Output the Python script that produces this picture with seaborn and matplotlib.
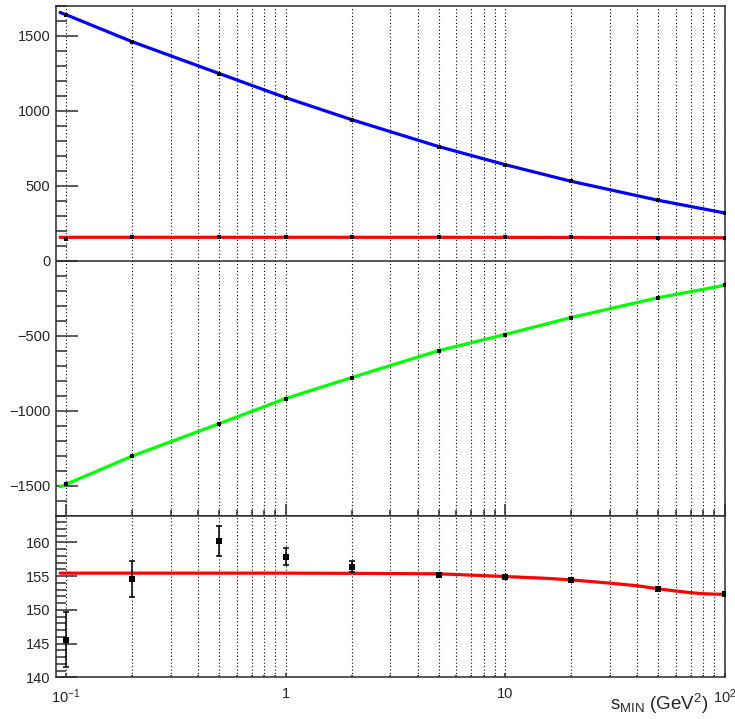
import numpy as np
import pandas as pd
import matplotlib
matplotlib.use("Agg")
import matplotlib.pyplot as plt
import seaborn as sns
from matplotlib.ticker import FixedLocator, MultipleLocator, NullFormatter, FixedFormatter

# ---------------- data ----------------
s_min = [0.1, 0.2, 0.5, 1, 2, 5, 10, 20, 50, 100]
blue_vals = [1640, 1460, 1247, 1087, 940, 760, 640, 529, 402, 318]
green_vals = [-1492, -1304, -1087, -920, -780, -600, -493, -380, -247, -165]
total_vals = [145.6, 154.6, 160.2, 157.9, 156.4, 155.2, 154.85, 154.4, 153.1, 152.3]
total_errs = [4.1, 2.7, 2.2, 1.25, 0.8, 0.3, 0.2, 0.2, 0.2, 0.2]

curve_x = [0.094, 0.1, 0.2, 0.5, 1, 2, 5, 10, 20, 50, 100]
blue_curve = [1655, 1640, 1460, 1247, 1087, 940, 760, 640, 529, 402, 318]
green_curve = [-1509, -1492, -1304, -1087, -920, -780, -600, -493, -380, -247, -165]

fit_x = [0.094, 0.5, 1, 2, 5, 10, 15, 20, 30, 40, 50, 60, 70, 80, 90, 100]
fit_y = [155.45, 155.45, 155.45, 155.42, 155.35, 154.95, 154.7, 154.45, 153.97,
         153.58, 153.12, 152.8, 152.55, 152.4, 152.33, 152.32]

x_major = [0.1, 1, 10, 100]
x_major_labels = [r"$\mathregular{10^{-1}}$", "1", "10", r"$\mathregular{10^{2}}$"]

# ---------------- style ----------------
sns.set_style("ticks")
plt.rcParams['font.family'] = ['Liberation Sans', 'DejaVu Sans']
plt.rcParams['mathtext.fontset'] = 'custom'
plt.rcParams['mathtext.rm'] = 'Liberation Sans'
plt.rcParams['mathtext.it'] = 'Liberation Sans:italic'

fig = plt.figure(figsize=(7.35, 7.19), dpi=100)
left, right = 56 / 735, 725 / 735
top_y0, top_y1 = 1 - 515.5 / 719, 1 - 5.7 / 719
bot_y0, bot_y1 = 1 - 677.3 / 719, 1 - 515.5 / 719
ax1 = fig.add_axes([left, top_y0, right - left, top_y1 - top_y0])
ax2 = fig.add_axes([left, bot_y0, right - left, bot_y1 - bot_y0], sharex=ax1)

frame_col = "#2b2b2b"
minor_x = [m * 10.0 ** e for e in (-1, 0, 1) for m in range(2, 10)]

for ax in (ax1, ax2):
    ax.set_xscale("log")
    ax.set_xlim(0.09, 100.5)
    for sp in ax.spines.values():
        sp.set_visible(True)
        sp.set_color(frame_col)
        sp.set_linewidth(1.1)
    ax.xaxis.set_major_locator(FixedLocator(x_major))
    ax.xaxis.set_minor_locator(FixedLocator(minor_x))
    ax.grid(False)
    ax.xaxis.grid(True, which="both", linestyle=(0, (1, 2.1)), color="black", linewidth=0.8)
    ax.set_axisbelow(True)

# ---------------- top panel ----------------
sns.lineplot(x=curve_x, y=blue_curve, ax=ax1, color=(0, 0, 1), linewidth=2.3, sort=False)
sns.lineplot(x=curve_x, y=green_curve, ax=ax1, color=(0, 1, 0), linewidth=2.3, sort=False)
sns.lineplot(x=fit_x, y=fit_y, ax=ax1, color=(1, 0, 0), linewidth=2.3, sort=False)
for vals in (blue_vals, green_vals, total_vals):
    sns.scatterplot(x=s_min, y=vals, ax=ax1, color="black", marker="s", s=6,
                    linewidth=0, zorder=5)
ax1.axhline(0, color=frame_col, linewidth=1.1, zorder=1)
ax1.set_ylim(-1700, 1700)
ax1.yaxis.set_major_locator(MultipleLocator(500))
ax1.yaxis.set_minor_locator(MultipleLocator(100))
ax1.tick_params(axis="y", which="major", direction="in", length=16, width=1.1,
                color=frame_col, labelsize=10.5, pad=4, right=False)
ax1.tick_params(axis="y", which="minor", direction="in", length=8, width=1.1,
                color=frame_col, right=False)
ax1.tick_params(axis="x", which="major", direction="in", length=9, width=1.1,
                color=frame_col, top=False, labelbottom=False)
ax1.tick_params(axis="x", which="minor", direction="in", length=4.5, width=1.1,
                color=frame_col, top=False, labelbottom=False)
ax1.set_xlabel("")
ax1.set_ylabel("")

# ---------------- bottom panel ----------------
sns.lineplot(x=fit_x, y=fit_y, ax=ax2, color=(1, 0, 0), linewidth=2.3, sort=False)
ax2.errorbar(s_min, total_vals, yerr=total_errs, fmt="none", ecolor="black",
             elinewidth=1.1, capsize=2.2, capthick=1.1, zorder=4)
sns.scatterplot(x=s_min, y=total_vals, ax=ax2, color="black", marker="s", s=16,
                linewidth=0, zorder=5)
ax2.set_ylim(140, 164)
ax2.yaxis.set_major_locator(FixedLocator([140, 145, 150, 155, 160]))
ax2.yaxis.set_minor_locator(MultipleLocator(1))
ax2.tick_params(axis="y", which="major", direction="in", length=15, width=1.1,
                color=frame_col, labelsize=10.5, pad=4, right=False)
ax2.tick_params(axis="y", which="minor", direction="in", length=7, width=1.1,
                color=frame_col, right=False)
ax2.tick_params(axis="x", which="major", direction="in", length=3, width=1.1,
                color=frame_col, top=False, labelsize=10.5, pad=7)
ax2.tick_params(axis="x", which="minor", direction="in", length=1.5, width=1.1,
                color=frame_col, top=False)
ax2.xaxis.set_major_formatter(FixedFormatter(x_major_labels))
ax2.xaxis.set_minor_formatter(NullFormatter())
ax2.set_xlabel("")
ax2.set_ylabel("")

fig.text(708 / 735, 0.004, r"s$_\mathregular{MIN}$ (GeV$^\mathregular{2}$)",
         ha="right", va="bottom", fontsize=13.5)

fig.savefig("out.png", dpi=100)
